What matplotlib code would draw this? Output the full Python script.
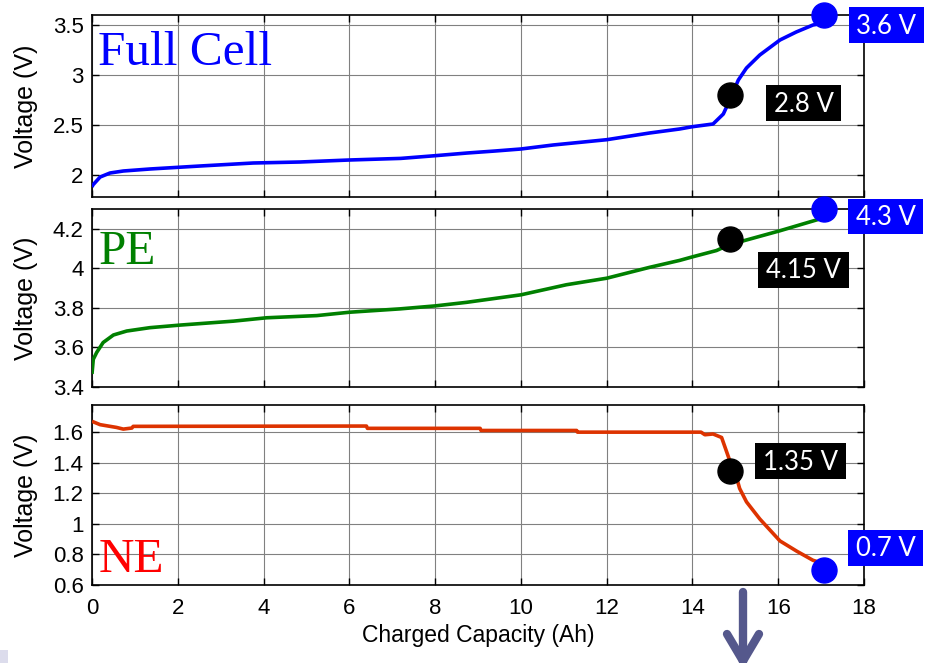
import matplotlib
matplotlib.use("Agg")
import matplotlib.pyplot as plt
from matplotlib.ticker import FuncFormatter
from matplotlib.patches import Rectangle
from matplotlib.lines import Line2D

# ---- data: charge curves (capacity in Ah, voltage in V) ----
full_cap = [0.0, 0.02, 0.19, 0.42, 0.73, 1.35, 2.52, 3.76, 4.85, 6.0, 7.2, 8.0, 8.75,
            9.4, 10.0, 10.75, 12.0, 13.0, 13.7, 14.0, 14.48, 14.72, 14.87, 15.07,
            15.26, 15.57, 16.04, 16.42, 16.81, 17.07]
full_v = [1.88, 1.90, 1.98, 2.02, 2.04, 2.06, 2.09, 2.12, 2.13, 2.15, 2.166, 2.193, 2.22,
          2.24, 2.26, 2.30, 2.353, 2.42, 2.46, 2.483, 2.51, 2.61, 2.75, 2.95,
          3.07, 3.20, 3.35, 3.43, 3.50, 3.52]

pe_cap = [0.0, 0.03, 0.11, 0.26, 0.5, 0.81, 1.35, 2.05, 3.3, 4.07, 5.24, 6.0, 7.18, 8.0,
          8.73, 10.0, 11.06, 12.0, 13.0, 13.7, 14.0, 14.56, 14.87, 16.04, 17.07]
pe_v = [3.466, 3.54, 3.575, 3.625, 3.663, 3.683, 3.70, 3.713, 3.733, 3.75, 3.761, 3.778,
        3.795, 3.81, 3.828, 3.866, 3.917, 3.95, 4.005, 4.04, 4.058, 4.09, 4.12, 4.19, 4.256]

ne_cap = [0.0, 0.19, 0.57, 0.73, 0.93, 0.96, 6.4, 6.42, 9.05, 9.07, 11.3, 11.32, 14.2,
          14.29, 14.48, 14.68, 14.87, 14.99, 15.1, 15.26, 15.57, 16.04, 16.43, 16.81, 17.07]
ne_v = [1.673, 1.651, 1.633, 1.622, 1.629, 1.64, 1.642, 1.627, 1.627, 1.613, 1.613, 1.602,
        1.602, 1.585, 1.59, 1.567, 1.415, 1.344, 1.233, 1.145, 1.033, 0.889, 0.822, 0.762, 0.74]

# ---- data: highlighted points ----
knee_cap = 14.87
end_cap = 17.07
full_pts = [2.8, 3.6]
pe_pts = [4.15, 4.3]
ne_pts = [1.35, 0.7]

x_ticks = [0, 2, 4, 6, 8, 10, 12, 14, 16, 18]
full_yticks = [2, 2.5, 3, 3.5]
pe_yticks = [3.4, 3.6, 3.8, 4.0, 4.2]
ne_yticks = [0.6, 0.8, 1.0, 1.2, 1.4, 1.6]

W, H = 933, 663
fig = plt.figure(figsize=(W / 100, H / 100), dpi=100)


def fx(px):
    return px / W


def fy(py):
    return 1 - py / H


def make_axes(top, bottom):
    return fig.add_axes([fx(92), fy(bottom), fx(864) - fx(92), (bottom - top) / H])


ax1 = make_axes(15, 197)
ax2 = make_axes(209, 387)
ax3 = make_axes(405, 585)

fmt = FuncFormatter(lambda v, p: "%g" % v)

panels = [
    (ax1, full_cap, full_v, "#0000FF", (1.78, 3.6), full_yticks, "Full Cell", "#0000FF", 0.725, full_pts),
    (ax2, pe_cap, pe_v, "#008000", (3.4, 4.3), pe_yticks, "PE", "#008000", 0.691, pe_pts),
    (ax3, ne_cap, ne_v, "#DD3300", (0.6, 1.78), ne_yticks, "NE", "#FF0000", 0.072, ne_pts),
]

for ax, xc, yv, col, ylim, yt, name, ncol, ny, pts in panels:
    ax.plot(xc, yv, color=col, lw=2.6, solid_capstyle="butt", zorder=3)
    ax.set_xlim(0, 18)
    ax.set_ylim(*ylim)
    ax.set_xticks(x_ticks)
    ax.set_yticks(yt)
    ax.yaxis.set_major_formatter(fmt)
    ax.xaxis.set_major_formatter(fmt)
    ax.grid(True, color="#808080", lw=0.8)
    ax.set_axisbelow(True)
    ax.tick_params(direction="in", length=5, width=1.0, top=True, right=True,
                   labelsize=16, pad=6)
    for lab in ax.get_yticklabels() + ax.get_xticklabels():
        lab.set_fontfamily("Liberation Sans")
    for s in ax.spines.values():
        s.set_linewidth(1.2)
    ax.set_ylabel("Voltage (V)", fontsize=18, family="Liberation Sans")
    ax.yaxis.set_label_coords(-0.07, 0.5)
    ax.text(0.008, ny, name, transform=ax.transAxes, color=ncol, fontsize=35.5,
            family="Liberation Serif", va="baseline", ha="left", zorder=5)
    ax.plot([knee_cap], [pts[0]], "o", color="black", ms=18, clip_on=False, zorder=6)
    ax.plot([end_cap], [pts[1]], "o", color="#0000FF", ms=18, clip_on=False, zorder=6)

ax1.tick_params(labelbottom=False)
ax2.tick_params(labelbottom=False)
ax3.tick_params(axis="x", pad=9)
ax3.set_xlabel("Charged Capacity (Ah)", fontsize=16.5, family="Liberation Sans")
ax3.xaxis.set_label_coords(0.5, -0.215)

# ---- value call-outs ----
boxes = [
    (849, 7, 75, 36, "#0000FF", "%g V" % full_pts[1]),
    (766, 85, 75, 36, "black", "%g V" % full_pts[0]),
    (848, 199, 75, 35, "#0000FF", "%g V" % pe_pts[1]),
    (758, 252, 91, 36, "black", "%g V" % pe_pts[0]),
    (755, 443, 91, 36, "black", "%g V" % ne_pts[0]),
    (848, 530, 75, 36, "#0000FF", "%g V" % ne_pts[1]),
]
for x0, y0, w, h, fc, txt in boxes:
    fig.patches.append(Rectangle((fx(x0), fy(y0 + h)), w / W, h / H, transform=fig.transFigure,
                                 facecolor=fc, edgecolor="none", zorder=10))
    fig.text(fx(x0 + w / 2), fy(y0 + h / 2 + 1), txt, color="white", fontsize=18.5,
             family="Lato", ha="center", va="center", zorder=11)

# ---- downward arrow below the knee ----
arrow_col = "#55588C"
ax_x = 743
for xs, ys in [([ax_x, ax_x], [592, 662]),
               ([ax_x, 727], [661, 634]),
               ([ax_x, 759], [661, 634])]:
    fig.lines.append(Line2D([fx(v) for v in xs], [fy(v) for v in ys], transform=fig.transFigure,
                            color=arrow_col, lw=6, solid_capstyle="round"))

fig.patches.append(Rectangle((0, 0), fx(8), 13 / H, transform=fig.transFigure,
                             facecolor="#DCDCEC", edgecolor="none"))

fig.savefig("out.png", dpi=100)
